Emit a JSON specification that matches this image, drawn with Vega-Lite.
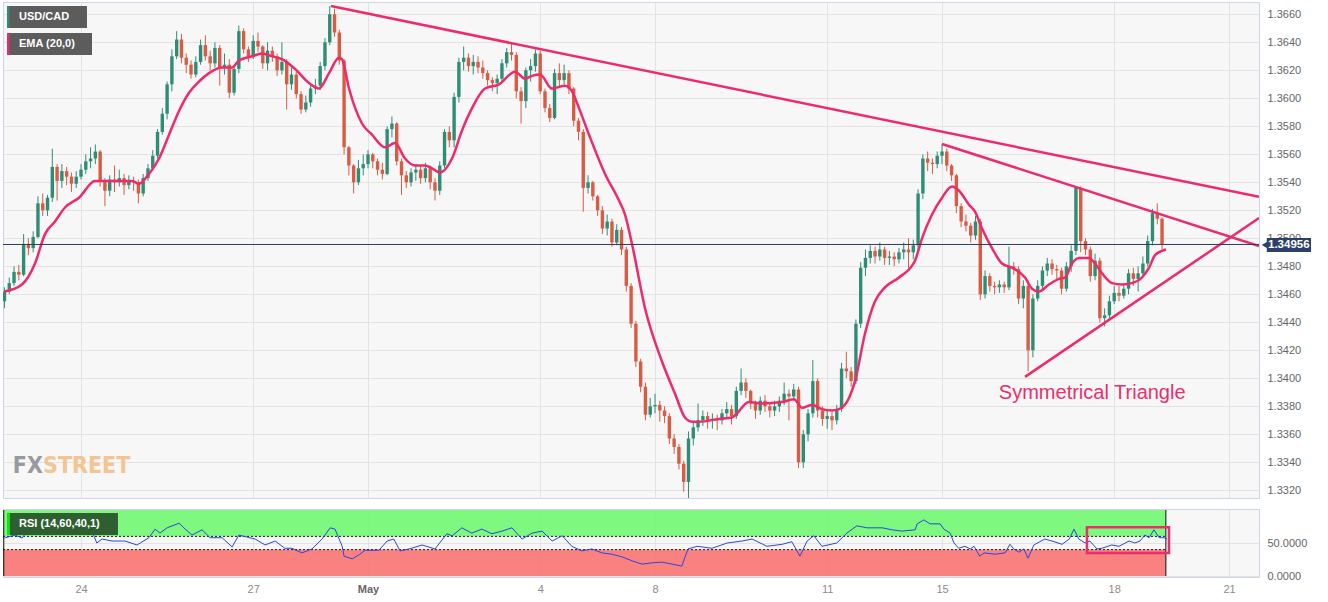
{
"$schema":"https://vega.github.io/schema/vega-lite/v6.json",
"background":"#ffffff",
"padding":{"left":1,"top":1,"right":0,"bottom":0},
"spacing":9,
"config":{"view":{"fill":"#f7f7f7","stroke":"#cdd4e4","strokeWidth":1},"font":"Liberation Sans","axis":{"labelOverlap":false},"axisY":{"labelOverlap":false},"axisRight":{"labelOverlap":false}},
"datasets":{
"candles":[
{"i":0,"o":1.3455,"h":1.3465,"l":1.3450,"c":1.3462},{"i":1,"o":1.3462,"h":1.3472,"l":1.3460,"c":1.3468},{"i":2,"o":1.3468,"h":1.3480,"l":1.3466,"c":1.3476},{"i":3,"o":1.3476,"h":1.3481,"l":1.3470,"c":1.3474},{"i":4,"o":1.3474,"h":1.3503,"l":1.3473,"c":1.3496},{"i":5,"o":1.3496,"h":1.3500,"l":1.3488,"c":1.3493},{"i":6,"o":1.3493,"h":1.3505,"l":1.3490,"c":1.3501},{"i":7,"o":1.3501,"h":1.3530,"l":1.3500,"c":1.3525},{"i":8,"o":1.3525,"h":1.3532,"l":1.3516,"c":1.3520},{"i":9,"o":1.3520,"h":1.3531,"l":1.3516,"c":1.3529},
{"i":10,"o":1.3529,"h":1.3564,"l":1.3526,"c":1.3551},{"i":11,"o":1.3551,"h":1.3553,"l":1.3527,"c":1.3541},{"i":12,"o":1.3541,"h":1.3553,"l":1.3536,"c":1.3548},{"i":13,"o":1.3548,"h":1.3551,"l":1.3538,"c":1.3544},{"i":14,"o":1.3544,"h":1.3547,"l":1.3533,"c":1.3539},{"i":15,"o":1.3539,"h":1.3548,"l":1.3536,"c":1.3544},{"i":16,"o":1.3544,"h":1.3553,"l":1.3542,"c":1.3549},{"i":17,"o":1.3549,"h":1.3560,"l":1.3546,"c":1.3555},{"i":18,"o":1.3555,"h":1.3565,"l":1.3550,"c":1.3557},{"i":19,"o":1.3557,"h":1.3567,"l":1.3553,"c":1.3562},
{"i":20,"o":1.3562,"h":1.3563,"l":1.3537,"c":1.3541},{"i":21,"o":1.3541,"h":1.3543,"l":1.3523,"c":1.3534},{"i":22,"o":1.3534,"h":1.3545,"l":1.3530,"c":1.3542},{"i":23,"o":1.3542,"h":1.3552,"l":1.3533,"c":1.3540},{"i":24,"o":1.3540,"h":1.3549,"l":1.3537,"c":1.3543},{"i":25,"o":1.3543,"h":1.3546,"l":1.3531,"c":1.3538},{"i":26,"o":1.3538,"h":1.3545,"l":1.3535,"c":1.3541},{"i":27,"o":1.3541,"h":1.3544,"l":1.3534,"c":1.3540},{"i":28,"o":1.3540,"h":1.3542,"l":1.3525,"c":1.3532},{"i":29,"o":1.3532,"h":1.3546,"l":1.3530,"c":1.3543},
{"i":30,"o":1.3543,"h":1.3553,"l":1.3541,"c":1.3550},{"i":31,"o":1.3550,"h":1.3563,"l":1.3548,"c":1.3559},{"i":32,"o":1.3559,"h":1.3578,"l":1.3557,"c":1.3576},{"i":33,"o":1.3576,"h":1.3593,"l":1.3574,"c":1.3589},{"i":34,"o":1.3589,"h":1.3612,"l":1.3585,"c":1.3610},{"i":35,"o":1.3610,"h":1.3635,"l":1.3605,"c":1.3630},{"i":36,"o":1.3630,"h":1.3648,"l":1.3628,"c":1.3642},{"i":37,"o":1.3642,"h":1.3646,"l":1.3625,"c":1.3629},{"i":38,"o":1.3629,"h":1.3632,"l":1.3618,"c":1.3624},{"i":39,"o":1.3624,"h":1.3627,"l":1.3614,"c":1.3617},
{"i":40,"o":1.3617,"h":1.3630,"l":1.3615,"c":1.3626},{"i":41,"o":1.3626,"h":1.3642,"l":1.3624,"c":1.3638},{"i":42,"o":1.3638,"h":1.3645,"l":1.3627,"c":1.3630},{"i":43,"o":1.3630,"h":1.3634,"l":1.3620,"c":1.3625},{"i":44,"o":1.3625,"h":1.3640,"l":1.3622,"c":1.3636},{"i":45,"o":1.3636,"h":1.3638,"l":1.3609,"c":1.3622},{"i":46,"o":1.3622,"h":1.3632,"l":1.3617,"c":1.3624},{"i":47,"o":1.3624,"h":1.3628,"l":1.3600,"c":1.3604},{"i":48,"o":1.3604,"h":1.3624,"l":1.3602,"c":1.3621},{"i":49,"o":1.3621,"h":1.3652,"l":1.3618,"c":1.3648},
{"i":50,"o":1.3648,"h":1.3650,"l":1.3632,"c":1.3635},{"i":51,"o":1.3635,"h":1.3637,"l":1.3626,"c":1.3630},{"i":52,"o":1.3630,"h":1.3645,"l":1.3628,"c":1.3641},{"i":53,"o":1.3641,"h":1.3647,"l":1.3633,"c":1.3637},{"i":54,"o":1.3637,"h":1.3638,"l":1.3621,"c":1.3625},{"i":55,"o":1.3625,"h":1.3640,"l":1.3620,"c":1.3634},{"i":56,"o":1.3634,"h":1.3637,"l":1.3626,"c":1.3630},{"i":57,"o":1.3630,"h":1.3632,"l":1.3616,"c":1.3620},{"i":58,"o":1.3620,"h":1.3640,"l":1.3617,"c":1.3626},{"i":59,"o":1.3626,"h":1.3628,"l":1.3592,"c":1.3610},
{"i":60,"o":1.3610,"h":1.3622,"l":1.3606,"c":1.3617},{"i":61,"o":1.3617,"h":1.3619,"l":1.3600,"c":1.3603},{"i":62,"o":1.3603,"h":1.3605,"l":1.3589,"c":1.3592},{"i":63,"o":1.3592,"h":1.3602,"l":1.3590,"c":1.3597},{"i":64,"o":1.3597,"h":1.3610,"l":1.3594,"c":1.3607},{"i":65,"o":1.3607,"h":1.3614,"l":1.3603,"c":1.3609},{"i":66,"o":1.3609,"h":1.3626,"l":1.3606,"c":1.3623},{"i":67,"o":1.3623,"h":1.3643,"l":1.3620,"c":1.3640},{"i":68,"o":1.3640,"h":1.3666,"l":1.3638,"c":1.3660},{"i":69,"o":1.3660,"h":1.3664,"l":1.3644,"c":1.3647},
{"i":70,"o":1.3647,"h":1.3649,"l":1.3624,"c":1.3627},{"i":71,"o":1.3627,"h":1.3628,"l":1.3560,"c":1.3565},{"i":72,"o":1.3565,"h":1.3566,"l":1.3545,"c":1.3552},{"i":73,"o":1.3552,"h":1.3553,"l":1.3532,"c":1.3540},{"i":74,"o":1.3540,"h":1.3556,"l":1.3538,"c":1.3550},{"i":75,"o":1.3550,"h":1.3560,"l":1.3545,"c":1.3553},{"i":76,"o":1.3553,"h":1.3563,"l":1.3550,"c":1.3560},{"i":77,"o":1.3560,"h":1.3561,"l":1.3550,"c":1.3555},{"i":78,"o":1.3555,"h":1.3557,"l":1.3545,"c":1.3549},{"i":79,"o":1.3549,"h":1.3554,"l":1.3542,"c":1.3546},
{"i":80,"o":1.3546,"h":1.3580,"l":1.3545,"c":1.3578},{"i":81,"o":1.3578,"h":1.3587,"l":1.3572,"c":1.3582},{"i":82,"o":1.3582,"h":1.3583,"l":1.3552,"c":1.3555},{"i":83,"o":1.3555,"h":1.3557,"l":1.3531,"c":1.3545},{"i":84,"o":1.3545,"h":1.3548,"l":1.3536,"c":1.3540},{"i":85,"o":1.3540,"h":1.3550,"l":1.3537,"c":1.3547},{"i":86,"o":1.3547,"h":1.3553,"l":1.3541,"c":1.3549},{"i":87,"o":1.3549,"h":1.3552,"l":1.3539,"c":1.3543},{"i":88,"o":1.3543,"h":1.3554,"l":1.3540,"c":1.3550},{"i":89,"o":1.3550,"h":1.3552,"l":1.3535,"c":1.3540},
{"i":90,"o":1.3540,"h":1.3543,"l":1.3527,"c":1.3534},{"i":91,"o":1.3534,"h":1.3555,"l":1.3531,"c":1.3552},{"i":92,"o":1.3552,"h":1.3578,"l":1.3550,"c":1.3576},{"i":93,"o":1.3576,"h":1.3580,"l":1.3565,"c":1.3570},{"i":94,"o":1.3570,"h":1.3604,"l":1.3565,"c":1.3601},{"i":95,"o":1.3601,"h":1.3629,"l":1.3597,"c":1.3626},{"i":96,"o":1.3626,"h":1.3637,"l":1.3620,"c":1.3629},{"i":97,"o":1.3629,"h":1.3632,"l":1.3619,"c":1.3623},{"i":98,"o":1.3623,"h":1.3631,"l":1.3617,"c":1.3626},{"i":99,"o":1.3626,"h":1.3630,"l":1.3618,"c":1.3622},
{"i":100,"o":1.3622,"h":1.3627,"l":1.3614,"c":1.3618},{"i":101,"o":1.3618,"h":1.3620,"l":1.3609,"c":1.3613},{"i":102,"o":1.3613,"h":1.3615,"l":1.3605,"c":1.3611},{"i":103,"o":1.3611,"h":1.3617,"l":1.3603,"c":1.3614},{"i":104,"o":1.3614,"h":1.3628,"l":1.3612,"c":1.3625},{"i":105,"o":1.3625,"h":1.3636,"l":1.3622,"c":1.3633},{"i":106,"o":1.3633,"h":1.3640,"l":1.3627,"c":1.3631},{"i":107,"o":1.3631,"h":1.3633,"l":1.3600,"c":1.3605},{"i":108,"o":1.3605,"h":1.3608,"l":1.3582,"c":1.3598},{"i":109,"o":1.3598,"h":1.3622,"l":1.3593,"c":1.3620},
{"i":110,"o":1.3620,"h":1.3628,"l":1.3612,"c":1.3623},{"i":111,"o":1.3623,"h":1.3635,"l":1.3619,"c":1.3632},{"i":112,"o":1.3632,"h":1.3634,"l":1.3603,"c":1.3605},{"i":113,"o":1.3605,"h":1.3607,"l":1.3590,"c":1.3593},{"i":114,"o":1.3593,"h":1.3596,"l":1.3583,"c":1.3586},{"i":115,"o":1.3586,"h":1.3621,"l":1.3585,"c":1.3618},{"i":116,"o":1.3618,"h":1.3625,"l":1.3608,"c":1.3613},{"i":117,"o":1.3613,"h":1.3624,"l":1.3610,"c":1.3618},{"i":118,"o":1.3618,"h":1.3620,"l":1.3603,"c":1.3607},{"i":119,"o":1.3607,"h":1.3608,"l":1.3580,"c":1.3584},
{"i":120,"o":1.3584,"h":1.3586,"l":1.3570,"c":1.3576},{"i":121,"o":1.3576,"h":1.3578,"l":1.3519,"c":1.3536},{"i":122,"o":1.3536,"h":1.3545,"l":1.3532,"c":1.3540},{"i":123,"o":1.3540,"h":1.3541,"l":1.3527,"c":1.3530},{"i":124,"o":1.3530,"h":1.3531,"l":1.3516,"c":1.3520},{"i":125,"o":1.3520,"h":1.3523,"l":1.3503,"c":1.3507},{"i":126,"o":1.3507,"h":1.3517,"l":1.3502,"c":1.3512},{"i":127,"o":1.3512,"h":1.3514,"l":1.3494,"c":1.3497},{"i":128,"o":1.3497,"h":1.3510,"l":1.3495,"c":1.3506},{"i":129,"o":1.3506,"h":1.3508,"l":1.3488,"c":1.3492},
{"i":130,"o":1.3492,"h":1.3494,"l":1.3462,"c":1.3466},{"i":131,"o":1.3466,"h":1.3468,"l":1.3436,"c":1.3439},{"i":132,"o":1.3439,"h":1.3441,"l":1.3408,"c":1.3412},{"i":133,"o":1.3412,"h":1.3414,"l":1.3390,"c":1.3394},{"i":134,"o":1.3394,"h":1.3397,"l":1.3370,"c":1.3374},{"i":135,"o":1.3374,"h":1.3386,"l":1.3372,"c":1.3380},{"i":136,"o":1.3380,"h":1.3389,"l":1.3375,"c":1.3381},{"i":137,"o":1.3381,"h":1.3384,"l":1.3369,"c":1.3377},{"i":138,"o":1.3377,"h":1.3380,"l":1.3368,"c":1.3373},{"i":139,"o":1.3373,"h":1.3375,"l":1.3353,"c":1.3357},
{"i":140,"o":1.3357,"h":1.3360,"l":1.3346,"c":1.3351},{"i":141,"o":1.3351,"h":1.3353,"l":1.3335,"c":1.3339},{"i":142,"o":1.3339,"h":1.3341,"l":1.3319,"c":1.3326},{"i":143,"o":1.3326,"h":1.3362,"l":1.3314,"c":1.3357},{"i":144,"o":1.3357,"h":1.3369,"l":1.3352,"c":1.3365},{"i":145,"o":1.3365,"h":1.3382,"l":1.3362,"c":1.3370},{"i":146,"o":1.3370,"h":1.3377,"l":1.3366,"c":1.3373},{"i":147,"o":1.3373,"h":1.3376,"l":1.3364,"c":1.3370},{"i":148,"o":1.3370,"h":1.3375,"l":1.3364,"c":1.3371},{"i":149,"o":1.3371,"h":1.3374,"l":1.3363,"c":1.3370},
{"i":150,"o":1.3370,"h":1.3378,"l":1.3367,"c":1.3375},{"i":151,"o":1.3375,"h":1.3383,"l":1.3371,"c":1.3378},{"i":152,"o":1.3378,"h":1.3381,"l":1.3367,"c":1.3373},{"i":153,"o":1.3373,"h":1.3394,"l":1.3371,"c":1.3391},{"i":154,"o":1.3391,"h":1.3407,"l":1.3388,"c":1.3397},{"i":155,"o":1.3397,"h":1.3400,"l":1.3386,"c":1.3391},{"i":156,"o":1.3391,"h":1.3392,"l":1.3378,"c":1.3382},{"i":157,"o":1.3382,"h":1.3384,"l":1.3371,"c":1.3377},{"i":158,"o":1.3377,"h":1.3387,"l":1.3374,"c":1.3384},{"i":159,"o":1.3384,"h":1.3388,"l":1.3376,"c":1.3380},
{"i":160,"o":1.3380,"h":1.3383,"l":1.3372,"c":1.3377},{"i":161,"o":1.3377,"h":1.3384,"l":1.3373,"c":1.3380},{"i":162,"o":1.3380,"h":1.3387,"l":1.3376,"c":1.3384},{"i":163,"o":1.3384,"h":1.3397,"l":1.3381,"c":1.3389},{"i":164,"o":1.3389,"h":1.3392,"l":1.3370,"c":1.3387},{"i":165,"o":1.3387,"h":1.3396,"l":1.3384,"c":1.3392},{"i":166,"o":1.3392,"h":1.3394,"l":1.3336,"c":1.3340},{"i":167,"o":1.3340,"h":1.3363,"l":1.3336,"c":1.3360},{"i":168,"o":1.3360,"h":1.3378,"l":1.3355,"c":1.3375},{"i":169,"o":1.3375,"h":1.3413,"l":1.3372,"c":1.3398},
{"i":170,"o":1.3398,"h":1.3400,"l":1.3372,"c":1.3377},{"i":171,"o":1.3377,"h":1.3380,"l":1.3366,"c":1.3371},{"i":172,"o":1.3371,"h":1.3377,"l":1.3364,"c":1.3373},{"i":173,"o":1.3373,"h":1.3376,"l":1.3363,"c":1.3370},{"i":174,"o":1.3370,"h":1.3381,"l":1.3367,"c":1.3378},{"i":175,"o":1.3378,"h":1.3411,"l":1.3376,"c":1.3407},{"i":176,"o":1.3407,"h":1.3419,"l":1.3400,"c":1.3405},{"i":177,"o":1.3405,"h":1.3408,"l":1.3394,"c":1.3398},{"i":178,"o":1.3398,"h":1.3442,"l":1.3396,"c":1.3439},{"i":179,"o":1.3439,"h":1.3483,"l":1.3436,"c":1.3479},
{"i":180,"o":1.3479,"h":1.3492,"l":1.3473,"c":1.3486},{"i":181,"o":1.3486,"h":1.3495,"l":1.3482,"c":1.3491},{"i":182,"o":1.3491,"h":1.3494,"l":1.3482,"c":1.3487},{"i":183,"o":1.3487,"h":1.3497,"l":1.3484,"c":1.3492},{"i":184,"o":1.3492,"h":1.3494,"l":1.3481,"c":1.3486},{"i":185,"o":1.3486,"h":1.3491,"l":1.3481,"c":1.3487},{"i":186,"o":1.3487,"h":1.3490,"l":1.3480,"c":1.3485},{"i":187,"o":1.3485,"h":1.3493,"l":1.3482,"c":1.3490},{"i":188,"o":1.3490,"h":1.3497,"l":1.3485,"c":1.3492},{"i":189,"o":1.3492,"h":1.3500,"l":1.3478,"c":1.3490},
{"i":190,"o":1.3490,"h":1.3499,"l":1.3485,"c":1.3495},{"i":191,"o":1.3495,"h":1.3535,"l":1.3490,"c":1.3532},{"i":192,"o":1.3532,"h":1.3560,"l":1.3528,"c":1.3557},{"i":193,"o":1.3557,"h":1.3562,"l":1.3548,"c":1.3554},{"i":194,"o":1.3554,"h":1.3557,"l":1.3546,"c":1.3553},{"i":195,"o":1.3553,"h":1.3562,"l":1.3550,"c":1.3559},{"i":196,"o":1.3559,"h":1.3567,"l":1.3553,"c":1.3562},{"i":197,"o":1.3562,"h":1.3564,"l":1.3548,"c":1.3552},{"i":198,"o":1.3552,"h":1.3553,"l":1.3541,"c":1.3545},{"i":199,"o":1.3545,"h":1.3546,"l":1.3518,"c":1.3523},
{"i":200,"o":1.3523,"h":1.3525,"l":1.3508,"c":1.3512},{"i":201,"o":1.3512,"h":1.3517,"l":1.3505,"c":1.3509},{"i":202,"o":1.3509,"h":1.3511,"l":1.3497,"c":1.3502},{"i":203,"o":1.3502,"h":1.3516,"l":1.3499,"c":1.3512},{"i":204,"o":1.3512,"h":1.3514,"l":1.3456,"c":1.3460},{"i":205,"o":1.3460,"h":1.3477,"l":1.3457,"c":1.3473},{"i":206,"o":1.3473,"h":1.3475,"l":1.3462,"c":1.3466},{"i":207,"o":1.3466,"h":1.3469,"l":1.3460,"c":1.3465},{"i":208,"o":1.3465,"h":1.3470,"l":1.3461,"c":1.3467},{"i":209,"o":1.3467,"h":1.3469,"l":1.3461,"c":1.3465},
{"i":210,"o":1.3465,"h":1.3494,"l":1.3463,"c":1.3480},{"i":211,"o":1.3480,"h":1.3483,"l":1.3474,"c":1.3478},{"i":212,"o":1.3478,"h":1.3480,"l":1.3453,"c":1.3457},{"i":213,"o":1.3457,"h":1.3470,"l":1.3450,"c":1.3466},{"i":214,"o":1.3466,"h":1.3470,"l":1.3405,"c":1.3420},{"i":215,"o":1.3420,"h":1.3460,"l":1.3415,"c":1.3457},{"i":216,"o":1.3457,"h":1.3470,"l":1.3455,"c":1.3466},{"i":217,"o":1.3466,"h":1.3480,"l":1.3463,"c":1.3477},{"i":218,"o":1.3477,"h":1.3486,"l":1.3473,"c":1.3482},{"i":219,"o":1.3482,"h":1.3485,"l":1.3474,"c":1.3478},
{"i":220,"o":1.3478,"h":1.3481,"l":1.3471,"c":1.3477},{"i":221,"o":1.3477,"h":1.3479,"l":1.3460,"c":1.3464},{"i":222,"o":1.3464,"h":1.3483,"l":1.3462,"c":1.3480},{"i":223,"o":1.3480,"h":1.3495,"l":1.3476,"c":1.3491},{"i":224,"o":1.3491,"h":1.3537,"l":1.3488,"c":1.3536},{"i":225,"o":1.3536,"h":1.3537,"l":1.3490,"c":1.3498},{"i":226,"o":1.3498,"h":1.3500,"l":1.3488,"c":1.3492},{"i":227,"o":1.3492,"h":1.3494,"l":1.3469,"c":1.3473},{"i":228,"o":1.3473,"h":1.3489,"l":1.3470,"c":1.3484},{"i":229,"o":1.3484,"h":1.3486,"l":1.3440,"c":1.3443},
{"i":230,"o":1.3443,"h":1.3450,"l":1.3437,"c":1.3445},{"i":231,"o":1.3445,"h":1.3459,"l":1.3442,"c":1.3455},{"i":232,"o":1.3455,"h":1.3466,"l":1.3453,"c":1.3461},{"i":233,"o":1.3461,"h":1.3466,"l":1.3455,"c":1.3459},{"i":234,"o":1.3459,"h":1.3468,"l":1.3457,"c":1.3464},{"i":235,"o":1.3464,"h":1.3478,"l":1.3460,"c":1.3475},{"i":236,"o":1.3475,"h":1.3479,"l":1.3466,"c":1.3471},{"i":237,"o":1.3471,"h":1.3480,"l":1.3462,"c":1.3475},{"i":238,"o":1.3475,"h":1.3487,"l":1.3472,"c":1.3482},{"i":239,"o":1.3482,"h":1.3502,"l":1.3480,"c":1.3498},
{"i":240,"o":1.3498,"h":1.3521,"l":1.3495,"c":1.3518},{"i":241,"o":1.3518,"h":1.3525,"l":1.3510,"c":1.3514},{"i":242,"o":1.3514,"h":1.3515,"l":1.3492,"c":1.3496}
],
"ema":[
{"i":0,"e":1.3462},{"i":3.66,"e":1.3467},{"i":6.38,"e":1.3482},{"i":8.47,"e":1.3503},{"i":10.56,"e":1.3512},{"i":12.65,"e":1.3522},{"i":15.58,"e":1.3529},{"i":18.93,"e":1.3541},{"i":21.85,"e":1.3541},{"i":26.66,"e":1.3541},{"i":28.12,"e":1.3539},{"i":30.21,"e":1.3546},{"i":32.31,"e":1.3557},{"i":34.4,"e":1.3574},{"i":36.49,"e":1.3591},{"i":38.58,"e":1.3604},{"i":40.67,"e":1.3612},{"i":42.76,"e":1.3618},{"i":45.48,"e":1.3622},{"i":47.57,"e":1.3622},{"i":49.03,"e":1.3627},{"i":51.75,"e":1.3630},{"i":53.84,"e":1.3632},{"i":55.93,"e":1.3630},{"i":58.02,"e":1.3628},{"i":60.74,"e":1.3621},{"i":63.66,"e":1.3611},{"i":65.76,"e":1.3607},{"i":67.85,"e":1.3618},{"i":69.94,"e":1.3629},{"i":70.56,"e":1.3628},{"i":72.03,"e":1.3607},{"i":74.74,"e":1.3582},{"i":76.83,"e":1.3574},{"i":79.55,"e":1.3565},{"i":81.64,"e":1.3568},{"i":83.73,"e":1.3557},{"i":85.82,"e":1.3552},{"i":87.92,"e":1.3552},{"i":89.38,"e":1.3550},{"i":91.05,"e":1.3547},{"i":93.56,"e":1.3557},{"i":95.65,"e":1.3577},{"i":97.74,"e":1.3593},{"i":100.46,"e":1.3607},{"i":103.39,"e":1.3610},{"i":106.73,"e":1.3619},{"i":108.82,"e":1.3614},{"i":110.28,"e":1.3616},{"i":111.96,"e":1.3617},{"i":114.47,"e":1.3607},{"i":117.18,"e":1.3609},{"i":118.65,"e":1.3605},{"i":120.11,"e":1.3593},{"i":122.2,"e":1.3574},{"i":125.55,"e":1.3546},{"i":128.47,"e":1.3527},{"i":129.73,"e":1.3517},{"i":131.19,"e":1.3496},{"i":133.91,"e":1.3450},{"i":137.46,"e":1.3412},{"i":140.18,"e":1.3389},{"i":142.27,"e":1.3372},{"i":143.73,"e":1.3369},{"i":145.2,"e":1.3369},{"i":149.38,"e":1.3371},{"i":152.1,"e":1.3372},{"i":155.65,"e":1.3383},{"i":158.37,"e":1.3382},{"i":162.55,"e":1.3383},{"i":165.06,"e":1.3385},{"i":166.73,"e":1.3379},{"i":168.82,"e":1.3381},{"i":170.91,"e":1.3378},{"i":173,"e":1.3377},{"i":174.46,"e":1.3378},{"i":176.56,"e":1.3386},{"i":177.81,"e":1.3398},{"i":179.9,"e":1.3432},{"i":182,"e":1.3455},{"i":184.08,"e":1.3465},{"i":187.01,"e":1.3472},{"i":190.35,"e":1.3484},{"i":191.82,"e":1.3500},{"i":193.91,"e":1.3517},{"i":196,"e":1.3529},{"i":198.09,"e":1.3537},{"i":199.55,"e":1.3534},{"i":201.64,"e":1.3524},{"i":202.9,"e":1.3519},{"i":204.36,"e":1.3507},{"i":206.45,"e":1.3493},{"i":208.54,"e":1.3482},{"i":210.63,"e":1.3479},{"i":213.35,"e":1.3472},{"i":214.81,"e":1.3464},{"i":216.27,"e":1.3462},{"i":218.37,"e":1.3467},{"i":220.46,"e":1.3471},{"i":221.71,"e":1.3472},{"i":223.17,"e":1.3482},{"i":224.64,"e":1.3486},{"i":226.73,"e":1.3486},{"i":227.98,"e":1.3482},{"i":229.45,"e":1.3475},{"i":231.54,"e":1.3468},{"i":233.63,"e":1.3467},{"i":235.72,"e":1.3468},{"i":237.81,"e":1.3472},{"i":239.28,"e":1.3479},{"i":240.53,"e":1.3488},{"i":241.99,"e":1.3491},{"i":242.82,"e":1.3492}
],
"trend":[
{"g":"a","i":68.26,"p":1.36659},{"g":"a","i":262.27,"p":1.35296},
{"g":"b","i":195.99,"p":1.35674},{"g":"b","i":262.27,"p":1.34945},
{"g":"c","i":213.35,"p":1.34010},{"g":"c","i":262.27,"p":1.35145}
],
"rsi":[
{"i":0,"r":57.6},{"i":2.2,"r":62},{"i":3.7,"r":57.6},{"i":5.1,"r":71},{"i":8.5,"r":73},{"i":12,"r":71},{"i":15.6,"r":64},{"i":18.3,"r":68},{"i":19.3,"r":50},{"i":20.4,"r":56},{"i":22.5,"r":53},{"i":25.2,"r":53},{"i":27.7,"r":47},{"i":30.2,"r":58},{"i":31.5,"r":71},{"i":32.5,"r":65},{"i":34,"r":73},{"i":36.5,"r":80},{"i":37.5,"r":73},{"i":39.2,"r":62},{"i":41.3,"r":70},{"i":43,"r":58},{"i":45.5,"r":58},{"i":47.6,"r":44},{"i":49,"r":62},{"i":52.4,"r":56},{"i":54.5,"r":47},{"i":56.6,"r":53},{"i":58.6,"r":42},{"i":60.1,"r":42},{"i":62.2,"r":35},{"i":64.3,"r":41},{"i":66.4,"r":56},{"i":68.1,"r":73},{"i":69.1,"r":71},{"i":70.6,"r":45},{"i":71,"r":30},{"i":72.7,"r":26},{"i":74.3,"r":33},{"i":75.4,"r":39},{"i":78.3,"r":39},{"i":80,"r":53},{"i":81.4,"r":56},{"i":82.7,"r":38},{"i":84.6,"r":41},{"i":87.3,"r":47},{"i":90,"r":41},{"i":92.5,"r":64},{"i":93.6,"r":61},
{"i":95.6,"r":73},{"i":97.7,"r":65},{"i":99.8,"r":71},{"i":101.9,"r":64},{"i":104,"r":68},{"i":106.1,"r":73},{"i":108.2,"r":56},{"i":110.3,"r":65},{"i":112.4,"r":68},{"i":114.5,"r":53},{"i":116.6,"r":61},{"i":118.6,"r":45},{"i":120.7,"r":38},{"i":122.8,"r":41},{"i":124.9,"r":35},{"i":127,"r":33},{"i":129.1,"r":29},{"i":131.2,"r":23},{"i":133.3,"r":18},{"i":135.4,"r":20},{"i":137.5,"r":21},{"i":139.6,"r":18},{"i":141.6,"r":15},{"i":142.9,"r":41},{"i":144.8,"r":45},{"i":147.9,"r":42},{"i":151.1,"r":50},{"i":154.2,"r":53},{"i":156.3,"r":56},{"i":159.4,"r":45},{"i":162.6,"r":48},{"i":164.6,"r":52},{"i":166.3,"r":30},{"i":167.8,"r":53},{"i":169.2,"r":61},{"i":170.9,"r":45},{"i":174,"r":50},{"i":176.1,"r":65},{"i":178.2,"r":76},{"i":180.3,"r":73},
{"i":183.5,"r":73},{"i":185.5,"r":70},{"i":187.6,"r":68},{"i":190.4,"r":70},{"i":190.8,"r":79},{"i":192.2,"r":85},{"i":193.5,"r":79},{"i":195.6,"r":79},{"i":196.4,"r":71},{"i":197.7,"r":65},{"i":198.5,"r":50},{"i":199.5,"r":42},{"i":200.8,"r":45},{"i":201.9,"r":41},{"i":202.7,"r":45},{"i":203.9,"r":30},{"i":204.8,"r":35},{"i":207.1,"r":33},{"i":209.2,"r":35},{"i":210.2,"r":48},{"i":211,"r":41},{"i":212.1,"r":36},{"i":213.1,"r":41},{"i":214,"r":27},{"i":215.2,"r":47},{"i":217.5,"r":56},{"i":219,"r":53},{"i":221.1,"r":48},{"i":222.6,"r":56},{"i":223.6,"r":71},{"i":224.6,"r":56},{"i":225.9,"r":50},{"i":226.9,"r":53},{"i":228.4,"r":41},{"i":229.4,"r":42},{"i":231.5,"r":47},{"i":233,"r":45},{"i":235.1,"r":53},{"i":236.3,"r":50},{"i":237.4,"r":53},{"i":238.4,"r":62},{"i":239.3,"r":58},{"i":240.3,"r":70},{"i":241.4,"r":58},{"i":242.4,"r":58},{"i":243,"r":56}
]
},
"vconcat":[
{
"width":1256,"height":496,
"layer":[
{"data":{"name":"candles"},"mark":{"type":"rule","clip":true,"strokeWidth":1},
 "encoding":{
  "x":{"field":"i","type":"quantitative","scale":{"domain":[-0.307,262.27],"nice":false,"zero":false},"axis":{"values":[16,52,76,112,136,172,196,232,256],"labels":false,"ticks":false,"domain":false,"grid":true,"gridColor":"#e3e3e3","title":null}},
  "y":{"field":"l","type":"quantitative","scale":{"domain":[1.33145,1.36688],"nice":false,"zero":false},"axis":{"orient":"right","tickCount":18,"format":".4f","labelOverlap":false,"labelBound":false,"labelFlush":false,"grid":true,"gridColor":"#e3e3e3","domain":false,"ticks":false,"labelPadding":8,"labelColor":"#666666","labelFontSize":11,"title":null}},
  "y2":{"field":"h"},
  "color":{"condition":{"test":"datum.c >= datum.o","value":"#2f8d76"},"value":"#d95b44"}
 }},
{"data":{"name":"candles"},"mark":{"type":"rule","clip":true,"strokeWidth":3.4,"strokeCap":"butt"},
 "encoding":{
  "x":{"field":"i","type":"quantitative"},
  "y":{"field":"o","type":"quantitative"},
  "y2":{"field":"c"},
  "color":{"condition":{"test":"datum.c >= datum.o","value":"#2f8d76"},"value":"#d95b44"}
 }},
{"data":{"name":"ema"},"mark":{"type":"line","clip":true,"color":"#ee2a6b","strokeWidth":2.5,"interpolate":"monotone"},
 "encoding":{"x":{"field":"i","type":"quantitative"},"y":{"field":"e","type":"quantitative"}}},
{"data":{"name":"trend"},"mark":{"type":"line","clip":true,"color":"#ee2a6b","strokeWidth":2.5},
 "encoding":{"x":{"field":"i","type":"quantitative"},"y":{"field":"p","type":"quantitative"},"detail":{"field":"g"}}},
{"data":{"values":[{}]},"mark":{"type":"rule","color":"#2c3d62","strokeWidth":1},
 "encoding":{"y":{"datum":1.34956}}},
{"data":{"values":[{}]},"mark":{"type":"text","color":"#ea2f6b","fontSize":20,"align":"center","baseline":"middle","text":"Symmetrical Triangle"},
 "encoding":{"x":{"datum":227.4},"y":{"datum":1.33895}}},
{"data":{"values":[{}]},"mark":{"type":"text","color":"#8e9196","fontSize":23,"font":"DejaVu Sans Condensed","fontWeight":"bold","align":"right","baseline":"middle","text":"FX","opacity":0.9},
 "encoding":{"x":{"datum":8.05},"y":{"datum":1.33374}}},
{"data":{"values":[{}]},"mark":{"type":"text","color":"#f2c089","fontSize":23,"font":"DejaVu Sans Condensed","fontWeight":"bold","align":"left","baseline":"middle","text":"STREET","opacity":0.9},
 "encoding":{"x":{"datum":8.05},"y":{"datum":1.33374}}},
{"data":{"values":[{}]},"mark":{"type":"rect","color":"#5c5c5c"},
 "encoding":{"x":{"datum":0.53},"x2":{"datum":17.25},"y":{"datum":1.36659},"y2":{"datum":1.36502}}},
{"data":{"values":[{}]},"mark":{"type":"rect","color":"#2f8d76"},
 "encoding":{"x":{"datum":0.53},"x2":{"datum":1.05},"y":{"datum":1.36659},"y2":{"datum":1.36502}}},
{"data":{"values":[{}]},"mark":{"type":"text","color":"#ffffff","fontSize":11,"fontWeight":"bold","align":"left","baseline":"middle","text":"USD/CAD"},
 "encoding":{"x":{"datum":3.04},"y":{"datum":1.36581}}},
{"data":{"values":[{}]},"mark":{"type":"rect","color":"#5c5c5c"},
 "encoding":{"x":{"datum":0.53},"x2":{"datum":18.3},"y":{"datum":1.36466},"y2":{"datum":1.36309}}},
{"data":{"values":[{}]},"mark":{"type":"rect","color":"#ee2a6b"},
 "encoding":{"x":{"datum":0.53},"x2":{"datum":1.05},"y":{"datum":1.36466},"y2":{"datum":1.36309}}},
{"data":{"values":[{}]},"mark":{"type":"text","color":"#ffffff","fontSize":11,"fontWeight":"bold","align":"left","baseline":"middle","text":"EMA (20,0)"},
 "encoding":{"x":{"datum":3.04},"y":{"datum":1.36388}}},
{"data":{"values":[{}]},"mark":{"type":"rect","color":"#2c4068"},
 "encoding":{"x":{"datum":263.9},"x2":{"datum":273.15},"y":{"datum":1.35002},"y2":{"datum":1.34902}}},
{"data":{"values":[{}]},"mark":{"type":"point","shape":"triangle-left","filled":true,"color":"#2c4068","size":70,"opacity":1},
 "encoding":{"x":{"datum":263.6},"y":{"datum":1.34952}}},
{"data":{"values":[{}]},"mark":{"type":"text","color":"#ffffff","fontSize":11.5,"fontWeight":"bold","align":"center","baseline":"middle","text":"1.34956"},
 "encoding":{"x":{"datum":268.5},"y":{"datum":1.34952}}}
]
},
{
"width":1256,"height":68,
"layer":[
{"data":{"name":"rsi"},"mark":{"type":"line","color":"#2a46e0","strokeWidth":1,"opacity":0},
 "encoding":{
  "x":{"field":"i","type":"quantitative","scale":{"domain":[-0.307,262.27],"nice":false,"zero":false},"axis":{"values":[16,52,76,112,136,172,196,232,256],"labelExpr":"datum.value==16?'24':datum.value==52?'27':datum.value==76?'May':datum.value==112?'4':datum.value==136?'8':datum.value==172?'11':datum.value==196?'15':datum.value==232?'18':'21'","ticks":false,"domain":false,"grid":true,"gridColor":"#e3e3e3","labelPadding":6,"labelFontSize":11,"labelColor":{"condition":{"test":"datum.value==76","value":"#666666"},"value":"#8c8c8c"},"labelFontWeight":{"condition":{"test":"datum.value==76","value":"bold"},"value":"normal"},"title":null}},
  "y":{"field":"r","type":"quantitative","scale":{"domain":[-1.5,101.5],"nice":false,"zero":false},"axis":{"orient":"right","values":[0,50],"format":".4f","labelOverlap":false,"grid":true,"gridColor":"#e3e3e3","domain":false,"ticks":false,"labelPadding":8,"labelColor":"#666666","labelFontSize":11,"title":null}}
 }},
{"data":{"values":[{}]},"mark":{"type":"rect","color":"#74f874","opacity":0.93},
 "encoding":{"x":{"datum":-0.307},"x2":{"datum":242.8},"y":{"datum":60},"y2":{"datum":100}}},
{"data":{"values":[{}]},"mark":{"type":"rect","color":"#f97775","opacity":0.93},
 "encoding":{"x":{"datum":-0.307},"x2":{"datum":242.8},"y":{"datum":0},"y2":{"datum":40}}},
{"data":{"values":[{}]},"mark":{"type":"rule","color":"#222222","strokeWidth":1,"strokeDash":[2,2]},
 "encoding":{"x":{"datum":-0.307},"x2":{"datum":242.8},"y":{"datum":60}}},
{"data":{"values":[{}]},"mark":{"type":"rule","color":"#222222","strokeWidth":1,"strokeDash":[2,2]},
 "encoding":{"x":{"datum":-0.307},"x2":{"datum":242.8},"y":{"datum":40}}},
{"data":{"values":[{}]},"mark":{"type":"rule","color":"#111111","strokeWidth":1},
 "encoding":{"x":{"datum":242.8},"y":{"datum":0},"y2":{"datum":100}}},
{"data":{"values":[{}]},"mark":{"type":"rule","color":"#111111","strokeWidth":1},
 "encoding":{"x":{"datum":-0.15},"y":{"datum":0},"y2":{"datum":100}}},
{"data":{"name":"rsi"},"mark":{"type":"line","color":"#2a46e0","strokeWidth":1},
 "encoding":{"x":{"field":"i","type":"quantitative"},"y":{"field":"r","type":"quantitative"}}},
{"data":{"values":[{}]},"mark":{"type":"rect","filled":false,"stroke":"#e8306a","strokeWidth":2.5},
 "encoding":{"x":{"datum":226.3},"x2":{"datum":243.45},"y":{"datum":35},"y2":{"datum":74}}},
{"data":{"values":[{}]},"mark":{"type":"rect","color":"#2f5f31"},
 "encoding":{"x":{"datum":0.53},"x2":{"datum":23.73},"y":{"datum":62},"y2":{"datum":95.5}}},
{"data":{"values":[{}]},"mark":{"type":"rect","color":"#14e014"},
 "encoding":{"x":{"datum":0.53},"x2":{"datum":1.16},"y":{"datum":62},"y2":{"datum":95.5}}},
{"data":{"values":[{}]},"mark":{"type":"text","color":"#ffffff","fontSize":11,"fontWeight":"bold","align":"left","baseline":"middle","text":"RSI (14,60,40,1)"},
 "encoding":{"x":{"datum":3.04},"y":{"datum":79}}}
]
}
]
}
